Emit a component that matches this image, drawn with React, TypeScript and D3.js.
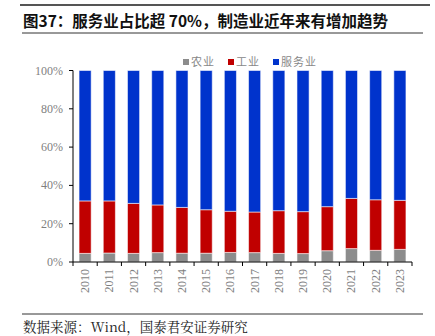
import React from "react";
import * as d3 from "d3";

const years = ["2010","2011","2012","2013","2014","2015","2016","2017","2018","2019","2020","2021","2022","2023"];
const agriculture = [4.5,4.7,4.5,4.9,4.6,4.6,5.0,4.9,4.5,4.4,5.9,7.0,6.1,6.6];
const industry = [27.4,27.2,26.1,24.9,23.9,22.7,21.5,21.2,22.3,21.9,23.0,26.2,26.4,25.6];
const services = [68.1,68.1,69.4,70.2,71.5,72.7,73.5,73.9,73.2,73.7,71.1,66.8,67.5,67.8];
const seriesNames = ["农业","工业","服务业"];
const seriesColors = ["#8c8c8c","#c00000","#0033cc"];
const yTicks = [0,20,40,60,80,100];

export default function App() {
  const W = 435, H = 336;
  const left = 73, right = 412, top = 70.5, bottom = 262;
  const x = d3.scaleBand<string>().domain(years).range([left, right]).paddingInner(0.5).paddingOuter(0.25);
  const y = d3.scaleLinear().domain([0, 100]).range([bottom, top]);
  const rows = years.map((yr, i) => ({ year: yr, a: agriculture[i], b: industry[i], c: services[i] }));
  const stack = d3.stack<any>().keys(["a","b","c"]);
  const layers = stack(rows);
  const step = (right - left) / years.length;
  const serif = "'Liberation Serif','Times New Roman',serif";
  const legendX = [183, 228, 273];
  return (
    <svg width={W} height={H} style={{ position: "absolute", left: 0, top: 0 }}>
      <rect width={W} height={H} fill="#fff" />
      <line x1={20} x2={430} y1={5} y2={5} stroke="#555" strokeWidth={2} />
      <text x={23} y={26.5} fontSize={15.5} fontWeight="bold" fontFamily="'Noto Sans CJK SC',sans-serif" fill="#111">图37：服务业占比超 70%，制造业近年来有增加趋势</text>
      <line x1={22} x2={423} y1={33} y2={33} stroke="#333" strokeWidth={1} />
      {seriesNames.map((n, i) => (
        <g key={n}>
          <rect x={legendX[i]} y={59} width={6} height={6} fill={seriesColors[i]} />
          <text x={legendX[i] + 8} y={66} fontSize={11} letterSpacing={1} fill="#888" fontFamily="'Noto Sans CJK SC',sans-serif">{n}</text>
        </g>
      ))}
      {layers.map((layer, li) => (
        <g key={li}>
          {layer.map((d, i) => (
            <rect key={i} x={x(years[i])} width={x.bandwidth()} y={y(d[1])} height={y(d[0]) - y(d[1])}
              fill={seriesColors[li]} stroke="rgba(255,255,255,0.55)" strokeWidth={1} />
          ))}
        </g>
      ))}
      <line x1={left} x2={left} y1={top} y2={bottom} stroke="#000" />
      {yTicks.map(t => (
        <g key={t}>
          <line x1={left - 4} x2={left} y1={y(t)} y2={y(t)} stroke="#000" />
          <text x={left - 10} y={y(t) + 4} fontSize={12} textAnchor="end" fill="#7f7f7f" fontFamily={serif}>{t}%</text>
        </g>
      ))}
      <line x1={left} x2={right} y1={bottom} y2={bottom} stroke="#000" />
      {d3.range(years.length + 1).map(i => (
        <line key={i} x1={left + i * step} x2={left + i * step} y1={bottom} y2={bottom + 4} stroke="#000" />
      ))}
      {years.map(yr => {
        const cx = (x(yr) as number) + x.bandwidth() / 2;
        return (
          <text key={yr} transform={`translate(${cx + 4},${bottom + 7}) rotate(-90)`} fontSize={12} textAnchor="end" fill="#7f7f7f" fontFamily={serif}>{yr}</text>
        );
      })}
      <line x1={22} x2={423} y1={314} y2={314} stroke="#333" strokeWidth={1} />
      <text x={23} y={332} fontSize={13.5} fill="#222" fontFamily="'Noto Serif CJK SC','Liberation Serif',serif">数据来源：Wind，国泰君安证券研究</text>
    </svg>
  );
}
